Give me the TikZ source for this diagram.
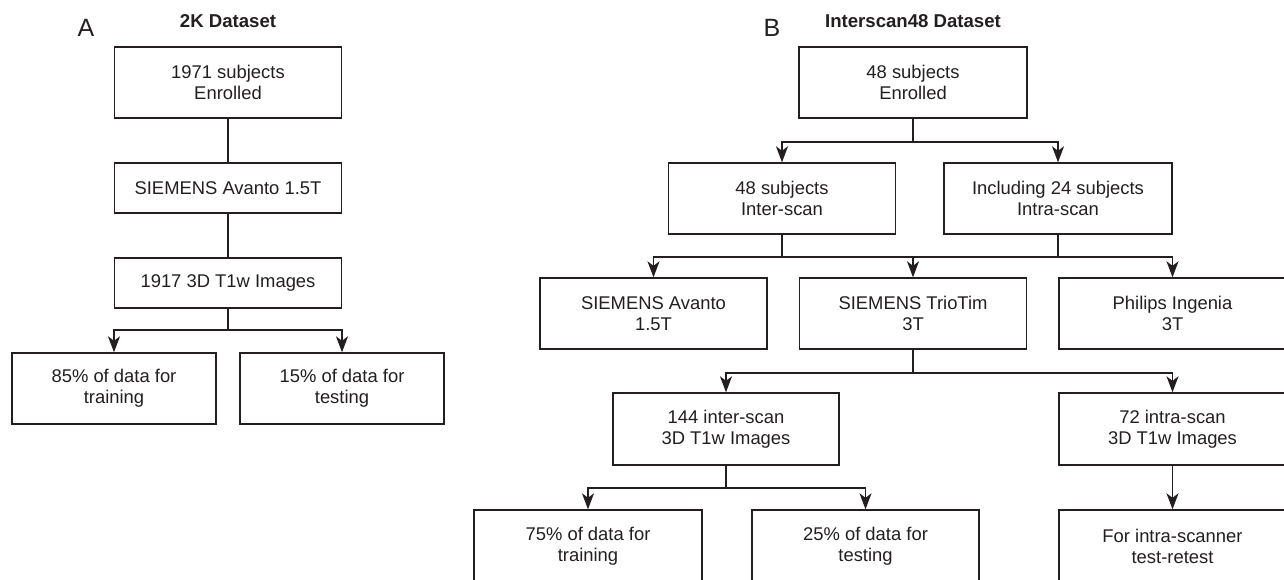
\documentclass[tikz,border=0pt]{standalone}
\usepackage{fontspec}
\setmainfont{Liberation Sans}
\usetikzlibrary{arrows.meta}
\definecolor{lc}{HTML}{231F20}
\definecolor{tc}{HTML}{231F20}
\begin{document}
\begin{tikzpicture}[x=1pt,y=-1pt,
  box/.style={draw=lc, line width=1.4pt, text=tc, align=center, inner sep=0pt,
    font=\fontsize{18.4}{21}\selectfont},
  tall/.style={box, minimum height=71pt},
  short/.style={box, minimum height=50pt},
  conn/.style={draw=lc, line width=1.4pt},
  arr/.style={conn, -{Stealth[length=16pt,width=12pt,inset=4.5pt]}},
  ttl/.style={text=tc, anchor=base, inner sep=0pt, font=\fontsize{18.6}{21}\selectfont\bfseries},
  lbl/.style={text=tc, anchor=base, inner sep=0pt, font=\fontsize{25}{28}\selectfont}
]
\fill[white] (0,0) rectangle (1284,579);
\clip (0,0) rectangle (1284,579);

% Panel A
\node[lbl] (lA) at (86,36) {A};
\node[ttl] (tA) at (228,27) {2K Dataset};
\node[tall, minimum width=227pt] (a1) at (228,82.5) {1971 subjects\\Enrolled};
\node[short, minimum width=227pt] (a2) at (228,188) {SIEMENS Avanto 1.5T};
\node[short, minimum width=227pt] (a3) at (228,283) {1917 3D T1w Images};
\node[tall, minimum width=204pt] (a4) at (114,388.5) {85\% of data for\\training};
\node[tall, minimum width=204pt] (a5) at (342,388.5) {15\% of data for\\testing};
\draw[conn] (a1) -- (a2);
\draw[conn] (a2) -- (a3);
\coordinate (sA) at (228,330);
\draw[conn] (a3) -- (sA);
\draw[arr] (sA) -| (a4.north);
\draw[arr] (sA) -| (a5.north);

% Panel B
\node[lbl] (lB) at (772,36) {B};
\node[ttl] (tB) at (913,27) {Interscan48 Dataset};
\node[tall, minimum width=228pt] (b1) at (913,82.5) {48 subjects\\Enrolled};
\node[tall, minimum width=227pt] (b2) at (782,198.5) {48 subjects\\Inter-scan};
\node[tall, minimum width=228pt] (b3) at (1058,198.5) {Including 24 subjects\\Intra-scan};
\node[tall, minimum width=227pt] (b4) at (653.5,313.5) {SIEMENS Avanto\\1.5T};
\node[tall, minimum width=227pt] (b5) at (913,313.5) {SIEMENS TrioTim\\3T};
\node[tall, minimum width=227pt] (b6) at (1172.5,313.5) {Philips Ingenia\\3T};
\node[tall, minimum width=226pt, minimum height=72pt] (b7) at (726,429) {144 inter-scan\\3D T1w Images};
\node[tall, minimum width=227pt, minimum height=72pt] (b8) at (1172.5,429) {72 intra-scan\\3D T1w Images};
\node[tall, minimum width=228pt, minimum height=72pt] (b9) at (588,546) {75\% of data for\\training};
\node[tall, minimum width=227pt, minimum height=72pt] (b10) at (865.5,546) {25\% of data for\\testing};
\node[tall, minimum width=227pt, minimum height=72pt] (b11) at (1172.5,546) {For intra-scanner\\test-retest};

\coordinate (s1) at (913,142);
\draw[conn] (b1) -- (s1);
\draw[arr] (s1) -| (b2.north);
\draw[arr] (s1) -| (b3.north);

\coordinate (s2) at (913,257);
\coordinate (s2l) at (782,257);
\coordinate (s2r) at (1058,257);
\draw[conn] (b2.south) -- (s2l);
\draw[conn] (b3.south) -- (s2r);
\draw[conn] (s2l) -- (s2r);
\draw[arr] (s2l) -| (b4.north);
\draw[arr] (s2) -- (b5.north);
\draw[arr] (s2r) -| (b6.north);

\coordinate (s3) at (913,373);
\draw[conn] (b5) -- (s3);
\draw[arr] (s3) -| (b7.north);
\draw[arr] (s3) -| (b8.north);

\coordinate (s4) at (726,488);
\draw[conn] (b7) -- (s4);
\draw[arr] (s4) -| (b9.north);
\draw[arr] (s4) -| (b10.north);

\draw[arr] (b8) -- (b11);
\end{tikzpicture}
\end{document}
